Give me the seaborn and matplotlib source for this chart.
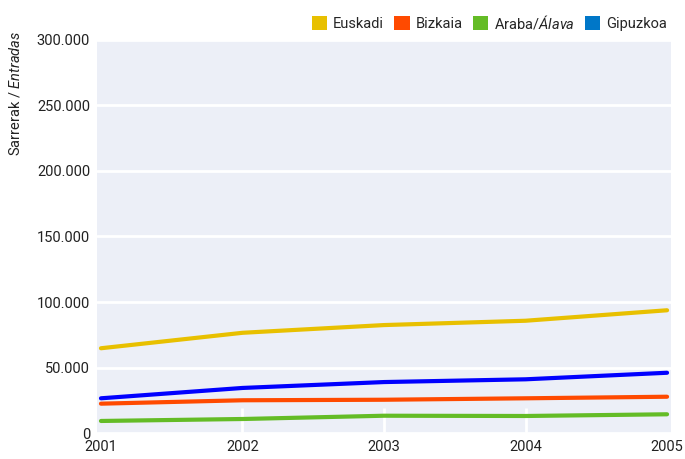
import pandas as pd
import numpy as np
import seaborn as sns
import matplotlib.pyplot as plt
from matplotlib.patches import Patch
from matplotlib.ticker import FuncFormatter

# Data
years = [2001, 2002, 2003, 2004, 2005]
euskadi = [64700, 76500, 82400, 85700, 93700]
bizkaia = [22400, 25000, 25400, 26500, 27700]
araba = [9200, 10700, 13200, 13000, 14300]
gipuzkoa = [26500, 34400, 38900, 41000, 46000]

series_names = ['Euskadi', 'Bizkaia', 'Araba/Álava', 'Gipuzkoa']
line_colors = ['#e8c000', '#ff4a00', '#64bc26', '#0000ff']
legend_colors = ['#e8c000', '#ff4a00', '#64bc26', '#0077c8']
legend_labels = ['Euskadi', 'Bizkaia', r'Araba/$\mathit{Álava}$', 'Gipuzkoa']

df = pd.DataFrame({
    'year': years * 4,
    'value': euskadi + bizkaia + araba + gipuzkoa,
    'zone': np.repeat(series_names, len(years)),
})

sns.set_style('white', {'axes.facecolor': '#eceff7'})
plt.rcParams['font.family'] = ['Roboto', 'DejaVu Sans']
plt.rcParams['mathtext.fontset'] = 'custom'
plt.rcParams['mathtext.it'] = 'Roboto:italic'
plt.rcParams['mathtext.rm'] = 'Roboto'

fig = plt.figure(figsize=(6.85, 4.59), dpi=100)
ax = fig.add_axes([0.1416, 0.0566, 0.838, 0.8563])

sns.lineplot(data=df, x='year', y='value', hue='zone',
             hue_order=series_names, palette=line_colors,
             linewidth=3, legend=False, ax=ax)

ax.set_xlim(2000.972, 2005.028)
ax.set_ylim(0, 300000)
ax.set_xticks(years)
ax.set_yticks(range(0, 300001, 50000))
ax.yaxis.set_major_formatter(FuncFormatter(
    lambda v, p: f'{int(v):,}'.replace(',', '.')))
ax.yaxis.grid(True, color='white', linewidth=2)
ax.set_axisbelow(True)
for s in ax.spines.values():
    s.set_visible(False)

ax.tick_params(axis='x', bottom=True, direction='in', length=18, width=2,
               color='white', labelsize=10.5, labelcolor='#222222', pad=5)
ax.tick_params(axis='y', left=False, length=0, labelsize=10.5,
               labelcolor='#222222', pad=5)
xt = ax.xaxis.get_major_ticks()
xt[0].tick1line.set_visible(False)
xt[-1].tick1line.set_visible(False)

ax.set_xlabel('')
ax.set_ylabel(r'Sarrerak / $\mathit{Entradas}$', fontsize=10.5, color='#222222')
ax.yaxis.set_label_coords(-0.13, 0.865)

handles = [Patch(facecolor=c, edgecolor='none') for c in legend_colors]
fig.legend(handles, legend_labels, loc='upper right',
           bbox_to_anchor=(0.993, 1.0), ncol=4, frameon=False,
           fontsize=10.5, handlelength=1.05, handleheight=1.05,
           columnspacing=0.7, handletextpad=0.4)

fig.savefig('out.png', dpi=100)
